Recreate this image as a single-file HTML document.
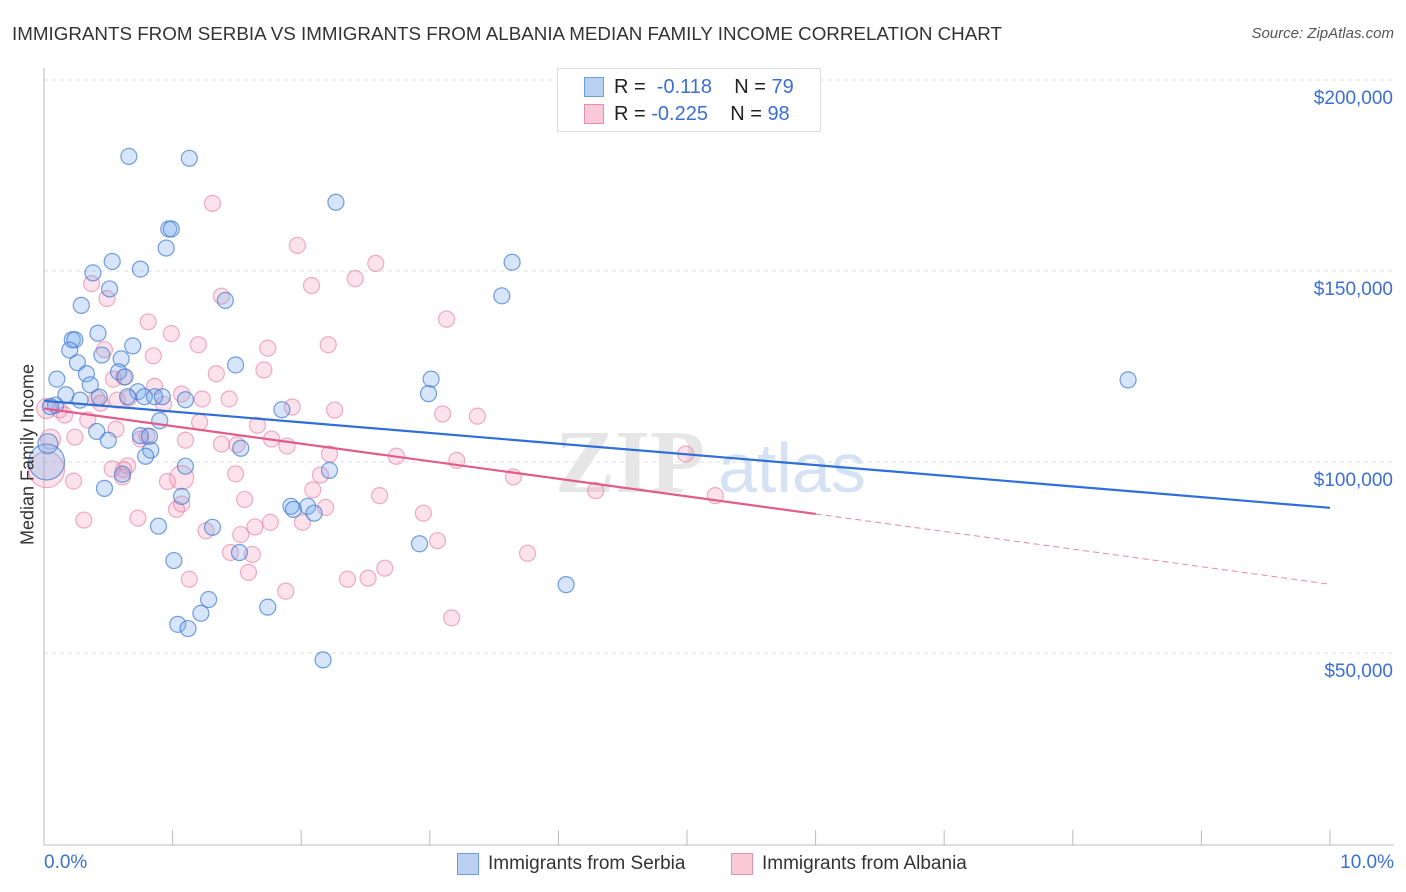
<!DOCTYPE html>
<html><head><meta charset="utf-8"><style>
body{margin:0;background:#fff;font-family:"Liberation Sans",sans-serif;}
#wrap{position:relative;width:1406px;height:892px;overflow:hidden;}
.t{position:absolute;white-space:nowrap;}
</style></head><body>
<div id="wrap">
<div class="t" style="left:12px;top:23px;font-size:18.8px;color:#333;">IMMIGRANTS FROM SERBIA VS IMMIGRANTS FROM ALBANIA MEDIAN FAMILY INCOME CORRELATION CHART</div>
<div class="t" style="right:12px;top:25px;font-size:15px;color:#555;font-style:italic;">Source: ZipAtlas.com</div>
<svg id="svg" width="1406" height="892" style="position:absolute;left:0;top:0"></svg>
</div>
<script>
const yTicks=[200000,150000,100000,50000];
const yTickLabels=["$200,000","$150,000","$100,000","$50,000"];
const serbiaX=[0.66,1.13,2.27,0.97,0.99,0.95,0.53,0.75,0.38,3.64,3.56,0.51,1.41,0.29,0.42,0.22,0.24,0.20,0.45,0.69,0.26,0.60,1.49,0.10,0.33,0.58,0.63,3.01,8.43,0.36,2.99,0.17,0.73,0.65,0.78,0.86,0.92,1.10,0.09,0.28,0.43,1.85,0.90,0.41,0.75,0.82,0.50,0.83,1.53,0.79,1.10,0.61,2.22,0.47,1.07,1.92,1.94,2.05,2.10,0.89,1.31,2.92,1.52,1.01,4.06,1.28,1.22,1.74,1.04,1.12,2.17,0.02,0.05,0.03];
const serbiaY=[180000,179500,168000,161000,161000,156000,152500,150500,149500,152300,143500,145300,142300,141000,133700,132000,132000,129300,128000,130400,126000,127000,125400,121700,123100,123600,122300,121700,121500,120200,117900,117600,118400,117100,117100,117100,117100,116300,114900,116200,117000,113700,110800,108000,106900,106700,105700,103100,103600,101500,98900,96800,97800,93100,91000,88400,87600,88400,86600,83200,82900,78600,76300,74200,67900,64000,60400,62000,57500,56400,48200,100000,114500,104800];
const serbiaR=[8,8,8,8,8,8,8,8,8,8,8,8,8,8,8,8,8,8,8,8,8,8,8,8,8,8,8,8,8,8,8,8,8,8,8,8,8,8,8,8,8,8,8,8,8,8,8,8,8,8,8,8,8,8,8,8,8,8,8,8,8,8,8,8,8,8,8,8,8,8,8,18,8,10];
const albaniaX=[1.31,1.97,2.58,2.42,2.08,0.37,0.49,1.38,3.13,0.81,0.99,1.20,1.74,2.21,0.47,0.85,1.71,1.34,1.44,1.23,0.62,0.54,0.86,1.07,0.41,0.57,0.44,0.66,1.93,2.26,3.10,3.37,0.93,1.21,1.66,0.12,0.16,0.34,0.56,0.80,0.75,0.24,1.10,1.77,1.38,1.50,1.89,2.22,2.74,3.21,4.99,0.65,0.62,0.53,1.49,2.15,3.65,0.96,1.07,0.23,0.61,4.29,5.22,2.61,1.56,2.09,1.07,1.03,2.19,2.95,0.31,0.73,1.76,2.01,1.26,1.64,1.53,3.06,1.45,1.62,3.76,1.59,2.65,2.36,2.52,1.13,1.88,3.17,0.02,0.05,0.02];
const albaniaY=[167700,156700,152000,148000,146200,146700,142800,143400,137400,136700,133600,130700,129800,130700,129400,127800,124100,123100,116500,116500,122200,121700,119800,117800,116700,116200,115400,116700,114400,113600,112600,112000,115100,110400,109600,113600,112300,111000,108600,106800,106000,106500,105700,106000,104700,104500,104200,102100,101500,100400,102100,99000,98000,98200,96900,96600,96100,94900,95900,95000,96100,92500,91200,91200,90200,92700,89000,87600,88100,86600,84800,85300,84200,84200,82000,83000,81000,79400,76300,75800,76100,71100,72200,69300,69600,69300,66200,59200,98000,106000,114000];
const albaniaR=[8,8,8,8,8,8,8,8,8,8,8,8,8,8,8,8,8,8,8,8,8,8,8,8,8,8,8,8,8,8,8,8,8,8,8,8,8,8,8,8,8,8,8,8,8,8,8,8,8,8,8,8,8,8,8,8,8,8,12,8,8,8,8,8,8,8,8,8,8,8,8,8,8,8,8,8,8,8,8,8,8,8,8,8,8,8,8,8,18,10,10];
const serbiaTrend=[116000,88000];
const albaniaTrend=[114000,68000];
const NS="http://www.w3.org/2000/svg";
const svg=document.getElementById('svg');
const X=p=>44+p*128.6;
const Y=v=>80+(200000-v)/50000*191;
function mk(tag,attrs,parent){const e=document.createElementNS(NS,tag);for(const k in attrs)e.setAttribute(k,attrs[k]);(parent||svg).appendChild(e);return e;}
yTicks.forEach((v,i)=>{
 const g=mk('line',{x1:44,x2:1394,y1:Y(v),y2:Y(v),stroke:'#ddd','stroke-dasharray':'4,4'});
 
 
 const t=mk('text',{x:1393,y:Y(v)+24,'text-anchor':'end','font-size':19,fill:'#3b6fd4','font-family':'Liberation Sans'});
 t.textContent=yTickLabels[i];
 
 
});
mk('line',{x1:44,x2:44,y1:68,y2:845,stroke:'#bbb'});
mk('line',{x1:44,x2:1394,y1:845,y2:845,stroke:'#bbb'});
for(let i=0;i<=10;i++){const tk=mk('line',{x1:X(i),x2:X(i),y1:830,y2:845,stroke:'#bbb'});
 
 }
const wm=mk('text',{x:555,y:492,'font-size':90,fill:'#e6e6e6','font-family':'Liberation Serif','font-weight':'bold'});wm.textContent='ZIP';


const wm2=mk('text',{x:718,y:492,'font-size':70,fill:'#d5e2f4','font-family':'Liberation Sans'});wm2.textContent='atlas';


function pts(xs,ys,rs,fill,stroke,name){xs.forEach((x,i)=>{const c=mk('circle',{cx:X(x),cy:Y(ys[i]),r:rs[i],fill:fill,stroke:stroke,'stroke-width':1.2});
 
 });}
pts(albaniaX,albaniaY,albaniaR,'rgba(244,143,177,0.25)','rgba(232,120,160,0.6)','albania-point');
pts(serbiaX,serbiaY,serbiaR,'rgba(120,170,235,0.3)','rgba(60,120,210,0.7)','serbia-point');
const sl=mk('line',{x1:X(0),y1:Y(serbiaTrend[0]),x2:X(10),y2:Y(serbiaTrend[1]),stroke:'#2f6fd6','stroke-width':2.2});


const pm=albaniaTrend[0]+(albaniaTrend[1]-albaniaTrend[0])*0.6;
const al=mk('line',{x1:X(0),y1:Y(albaniaTrend[0]),x2:X(6),y2:Y(pm),stroke:'#e05d8a','stroke-width':2.2});


const ad=mk('line',{x1:X(6),y1:Y(pm),x2:X(10),y2:Y(albaniaTrend[1]),stroke:'#e58aa8','stroke-width':1,'stroke-dasharray':'6,4'});


</script>
<div class="t" style="left:557px;top:68px;width:262px;height:62px;border:1px solid #ddd;background:#fff;">
 <div style="position:absolute;left:26px;top:8px;width:18px;height:18px;background:#b9d2f3;border:1px solid #6b9ee0;"></div>
 <div style="position:absolute;left:26px;top:35px;width:18px;height:18px;background:#f9c9d8;border:1px solid #e98db0;"></div>
 <div class="t" style="left:56px;top:7px;font-size:20px;color:#222;">R = &nbsp;<span style="color:#3b6fd4">-0.118</span>&nbsp;&nbsp;&nbsp; N = <span style="color:#3b6fd4">79</span></div>
 <div class="t" style="left:56px;top:34px;font-size:20px;color:#222;">R = <span style="color:#3b6fd4">-0.225</span>&nbsp;&nbsp;&nbsp; N = <span style="color:#3b6fd4">98</span></div>
</div>
<div class="t" style="left:44px;top:852px;font-size:19px;color:#3b6fd4;">0.0%</div>
<div class="t" style="right:12px;top:852px;font-size:19px;color:#3b6fd4;">10.0%</div>
<div class="t" style="left:457px;top:853px;width:20px;height:20px;background:#b9d2f3;border:1px solid #6b9ee0;"></div>
<div class="t" style="left:488px;top:853px;font-size:19px;color:#333;">Immigrants from Serbia</div>
<div class="t" style="left:731px;top:853px;width:20px;height:20px;background:#f9c9d8;border:1px solid #e98db0;"></div>
<div class="t" style="left:762px;top:853px;font-size:19px;color:#333;">Immigrants from Albania</div>
<div class="t" style="left:-72px;top:444px;font-size:18px;color:#333;transform:rotate(-90deg);transform-origin:center;width:200px;text-align:center;">Median Family Income</div>
</body></html>
